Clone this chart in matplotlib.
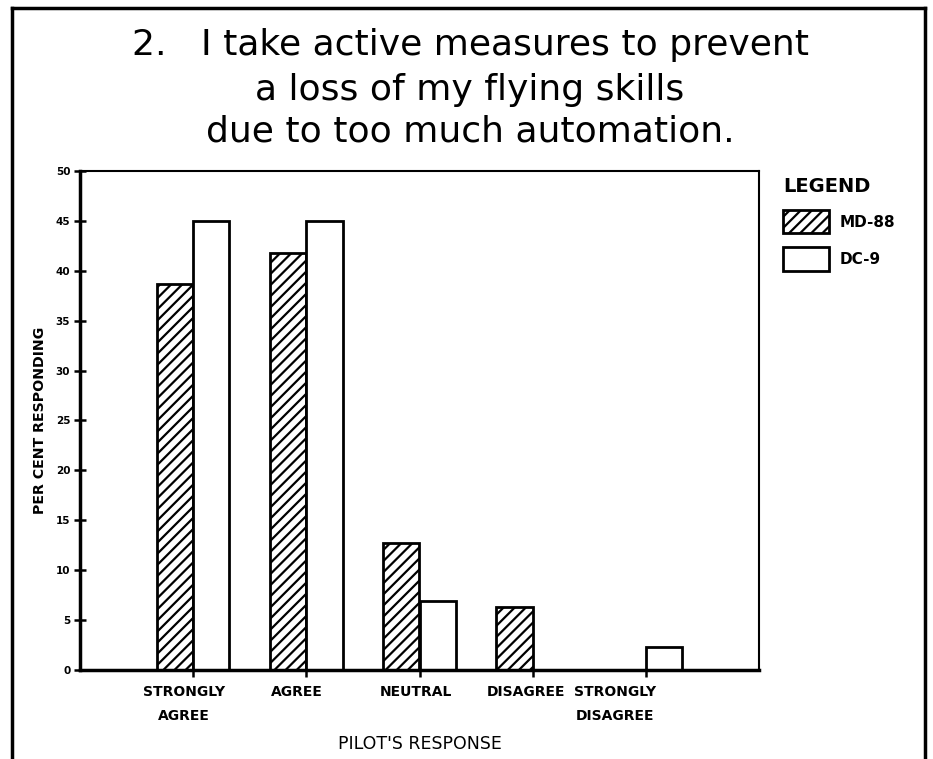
import matplotlib
matplotlib.use("Agg")
import matplotlib.pyplot as plt
import matplotlib.transforms as mtransforms
import numpy as np

categories = ["STRONGLY\nAGREE", "AGREE", "NEUTRAL", "DISAGREE", "STRONGLY\nDISAGREE"]
md88 = [38.7, 41.8, 12.7, 6.3, 0]
dc9 = [45.0, 45.0, 6.9, 0, 2.3]
yticks = [0, 5, 10, 15, 20, 25, 30, 35, 40, 45, 50]

plt.rcParams['hatch.linewidth'] = 1.6
plt.rcParams['font.family'] = ['DejaVu Sans']

fig = plt.figure(figsize=(9.33, 7.59), dpi=100)
ax = fig.add_axes([80/933, 1-670/759, (759-80)/933, (670-171)/759])

x = np.arange(len(categories))
w = 0.32
b1 = ax.bar(x - w/2, md88, w, facecolor='white', edgecolor='black', hatch='///', linewidth=2, label='MD-88')
b2 = ax.bar(x + w/2, dc9, w, facecolor='white', edgecolor='black', linewidth=2, label='DC-9')

ax.set_xlim(-1, 5)
ax.set_ylim(0, 50)
ax.set_yticks(yticks)
ax.set_yticklabels([str(t) for t in yticks], fontsize=7.5, fontweight='bold')
ax.set_xticks(x)
ax.set_xticklabels(categories, fontsize=10, fontweight='bold', linespacing=1.85)
ax.tick_params(axis='y', direction='inout', length=8, width=1.8, pad=3)
ax.tick_params(axis='x', direction='out', length=5, width=1.8, pad=6)
for s in ax.spines.values():
    s.set_linewidth(1.5)
ax.spines['left'].set_linewidth(2.5)
ax.spines['bottom'].set_linewidth(2.5)

# nudge category labels as in the original
shifts = [-9, -9, -4, -7, -31]
for lab, dx in zip(ax.get_xticklabels(), shifts):
    lab.set_transform(lab.get_transform() + mtransforms.ScaledTranslation(dx/100, 0, fig.dpi_scale_trans))

ax.set_xlabel("PILOT'S RESPONSE", fontsize=12.5, labelpad=9)
ax.set_ylabel("PER CENT RESPONDING", fontsize=10.2, fontweight='bold', labelpad=6)

for ypx, line in [(45, "2.   I take active measures to prevent"),
                  (90, "a loss of my flying skills"),
                  (131, "due to too much automation.")]:
    fig.text(470/933, 1-ypx/759, line, ha='center', va='center', fontsize=26)

leg = ax.legend(handles=[b1, b2], title="LEGEND", loc='upper left',
                bbox_to_anchor=(1.026, 1.0), frameon=False, fontsize=11,
                title_fontsize=14, handlelength=3.0, handleheight=2.0,
                labelspacing=0.9, handletextpad=0.7, borderaxespad=0.0)
leg._legend_box.align = "left"
leg.get_title().set_fontweight('bold')
for t in leg.get_texts():
    t.set_fontweight('bold')

# outer frame
kw = dict(color='black', linewidth=2.5, transform=fig.transFigure)
fig.add_artist(plt.Line2D([12/933, 12/933], [0, 1-8/759], **kw))
fig.add_artist(plt.Line2D([925/933, 925/933], [0, 1-8/759], **kw))
fig.add_artist(plt.Line2D([12/933, 925/933], [1-8/759, 1-8/759], **kw))

fig.savefig("out.png", dpi=100)
